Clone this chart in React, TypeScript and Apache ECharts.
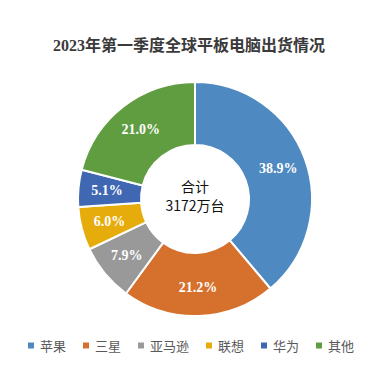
import React, { useEffect, useRef } from "react";
import * as echarts from "echarts";

const categories = ["苹果", "三星", "亚马逊", "联想", "华为", "其他"];
const shares = [38.9, 21.2, 7.9, 6.0, 5.1, 21.0];
const colors = ["#4F89C1", "#D6712D", "#999999", "#E6AC0C", "#3F67B2", "#609C40"];
const titleText = "2023年第一季度全球平板电脑出货情况";
const centerLines = ["合计", "3172万台"];

export default function App() {
  const ref = useRef<HTMLDivElement>(null);
  useEffect(() => {
    const chart = echarts.init(ref.current!, null, { renderer: "svg" });
    chart.setOption({
      animation: false,
      title: {
        text: titleText,
        left: "center",
        top: 24,
        textStyle: {
          fontFamily: "'Liberation Serif', 'Noto Sans CJK SC', serif",
          fontWeight: "bold",
          fontSize: 16,
          color: "#3a3a3a",
        },
      },
      legend: {
        data: categories,
        top: 326,
        left: 13,
        width: 349,
        itemWidth: 8,
        itemHeight: 8,
        itemGap: 15,
        icon: "rect",
        textStyle: {
          fontFamily: "'Noto Sans CJK SC', sans-serif",
          fontSize: 13,
          color: "#595959",
        },
      },
      graphic: [
        {
          type: "text",
          x: 187,
          y: 178,
          style: {
            text: centerLines[0],
            align: "center",
            verticalAlign: "middle",
            fontFamily: "'Noto Sans CJK SC', sans-serif",
            fontSize: 14,
            fill: "#111",
          },
        },
        {
          type: "text",
          x: 187,
          y: 197,
          style: {
            text: centerLines[1],
            align: "center",
            verticalAlign: "middle",
            fontFamily: "'Noto Sans CJK SC', sans-serif",
            fontSize: 14,
            fill: "#111",
          },
        },
      ],
      series: [
        {
          type: "pie",
          center: [187, 191],
          radius: [54, 117],
          startAngle: 90,
          clockwise: true,
          itemStyle: { borderColor: "#fff", borderWidth: 2 },
          label: {
            show: true,
            position: "inside",
            formatter: (p: any) => p.value.toFixed(1) + "%",
            color: "#fff",
            fontFamily: "'Liberation Serif', serif",
            fontWeight: "bold",
            fontSize: 14,
          },
          labelLine: { show: false },
          data: categories.map((c, i) => ({
            name: c,
            value: shares[i],
            itemStyle: { color: colors[i] },
          })),
        },
      ],
    });
    return () => chart.dispose();
  }, []);
  return <div ref={ref} style={{ width: 362, height: 362 }} />;
}
